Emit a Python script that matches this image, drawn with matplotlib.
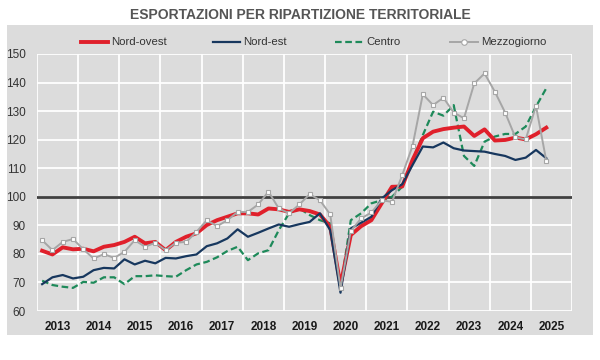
import matplotlib
matplotlib.use("Agg")
import matplotlib.pyplot as plt
from matplotlib.lines import Line2D
from matplotlib.patches import Rectangle
import numpy as np

plt.rcParams['font.family'] = ['Liberation Sans', 'DejaVu Sans']

title = "ESPORTAZIONI PER RIPARTIZIONE TERRITORIALE"
years = list(range(2013, 2026))
year_labels = [str(y) for y in years]
series_names = ["Nord-ovest", "Nord-est", "Centro", "Mezzogiorno"]

# quarterly values, 2013Q1 .. 2025Q2
nord_ovest = [81.1, 79.8, 82.3, 81.6,
              81.8, 80.9, 82.5, 83.1,
              84.2, 86.0, 83.7, 84.2,
              81.3, 84.2, 86.0, 87.2,
              90.1, 91.8, 93.0, 94.2,
              94.2, 93.8, 95.9, 95.6,
              94.7, 95.6, 95.0, 93.8,
              89.5, 69.1, 86.6, 89.7,
              91.8, 97.7, 103.5, 103.6,
              112.9, 120.5, 122.8, 123.7,
              124.2, 124.6, 121.3, 123.6,
              119.7, 119.9, 120.7, 120.1,
              121.9, 124.2]
nord_est = [69.4, 71.8, 72.6, 71.4,
            72.0, 74.3, 75.1, 74.9,
            78.1, 76.3, 77.6, 76.7,
            78.6, 78.4, 79.2, 79.8,
            82.7, 83.7, 85.4, 88.6,
            86.0, 87.4, 88.9, 90.3,
            89.5, 90.4, 91.2, 94.2,
            88.3, 66.4, 88.9, 90.9,
            93.0, 99.4, 102.3, 104.4,
            111.1, 117.6, 117.3, 119.0,
            117.0, 116.2, 116.0, 115.8,
            115.0, 114.3, 112.9, 113.7,
            116.4, 113.5]
centro = [70.6, 69.1, 68.5, 68.1,
          70.2, 69.9, 71.8, 71.8,
          69.4, 72.2, 72.2, 72.5,
          72.2, 72.0, 74.3, 76.3,
          77.2, 78.8, 81.0, 82.5,
          77.8, 80.2, 81.3, 88.3,
          94.2, 95.9, 93.6, 91.8,
          90.7, 67.9, 91.8, 94.2,
          97.7, 98.8, 100.0, 103.5,
          112.9, 121.6, 129.8, 128.4,
          132.1, 114.3, 110.8, 119.3,
          121.1, 122.0, 122.0, 124.6,
          131.6, 138.0]
mezzogiorno = [84.8, 81.3, 84.2, 85.2,
               81.6, 78.4, 79.9, 78.6,
               80.7, 84.8, 82.5, 83.9,
               81.3, 83.9, 84.2, 87.7,
               91.8, 89.7, 91.8, 94.7,
               94.7, 97.3, 101.8, 95.9,
               94.2, 97.3, 100.9, 98.8,
               93.8, 67.9, 88.0, 92.4,
               94.5, 98.8, 98.2, 107.6,
               117.8, 135.9, 132.1, 134.7,
               129.5, 127.5, 139.7, 143.2,
               136.8, 129.5, 120.8, 120.1,
               131.8, 112.6]

n = len(nord_ovest)
x = np.array([years[0] + (i + 0.5) / 4 for i in range(n)])

BG = "#dcdcdc"
RED = "#e0202b"
NAVY = "#17375e"
GREEN = "#1e8a5a"
GRAY = "#a6a6a6"

fig = plt.figure(figsize=(6, 3.6), dpi=100)
fig.patch.set_facecolor("white")
fig.add_artist(Rectangle((7/600, 1-335/360), 586/600, 310/360,
                         transform=fig.transFigure, facecolor=BG,
                         edgecolor="none", zorder=0))

ax = fig.add_axes([37/600, 1-311/360, 535/600, 257/360])
ax.set_facecolor(BG)
for s in ax.spines.values():
    s.set_visible(False)

ax.set_xlim(years[0], years[-1] + 1)
ax.set_ylim(60, 150)
ax.set_yticks(np.arange(60, 151, 10))
ax.set_xticks(np.arange(years[0], years[-1] + 2), minor=False)
ax.set_xticklabels([])
ax.set_xticks(np.array(years) + 0.5, minor=True)
ax.set_xticklabels(year_labels, minor=True, fontweight="bold", fontsize=8.5, color="#1a1a1a")
ax.tick_params(axis="x", which="both", length=0, pad=7)
ax.tick_params(axis="y", length=0, labelsize=8.5, labelcolor="#333333", pad=8)
ax.grid(True, which="major", color="white", linewidth=1.3)
ax.set_axisbelow(True)

ax.axhline(100, color="#404040", linewidth=2, zorder=2)

ax.plot(x, centro, color=GREEN, linewidth=1.6, linestyle=(0, (3, 1.6)), zorder=3)
ax.plot(x, nord_ovest, color=RED, linewidth=2.8, zorder=4)
ax.plot(x, nord_est, color=NAVY, linewidth=1.6, zorder=5)
ax.plot(x, mezzogiorno, color=GRAY, linewidth=1.4, marker="s", markersize=3.5,
        markerfacecolor="white", markeredgecolor=GRAY, markeredgewidth=0.8, zorder=6)

fig.text(0.5, 1-15/360, title, ha="center", va="center", fontsize=10,
         fontweight="bold", color="#555555")

# legend
ly = 1 - 42/360
items = [
    (series_names[0], dict(color=RED, linewidth=2.8), 81, 108),
    (series_names[1], dict(color=NAVY, linewidth=1.6), 213, 240),
    (series_names[2], dict(color=GREEN, linewidth=1.6, linestyle=(0, (3, 1.6))), 335, 363),
    (series_names[3], dict(color=GRAY, linewidth=1.4), 450, 478),
]
for name, style, x0, x1 in items:
    fig.add_artist(Line2D([x0/600, x1/600], [ly, ly], transform=fig.transFigure, **style))
    if name == series_names[3]:
        fig.add_artist(Line2D([(x0+x1)/1200], [ly], transform=fig.transFigure,
                              marker="o", markersize=4, markerfacecolor="white",
                              markeredgecolor=GRAY, markeredgewidth=0.8, linestyle="none"))
    fig.text((x1 + 3)/600, ly, name, ha="left", va="center", fontsize=8.2, color="#333333")

fig.savefig("out.png", dpi=100, facecolor="white")
